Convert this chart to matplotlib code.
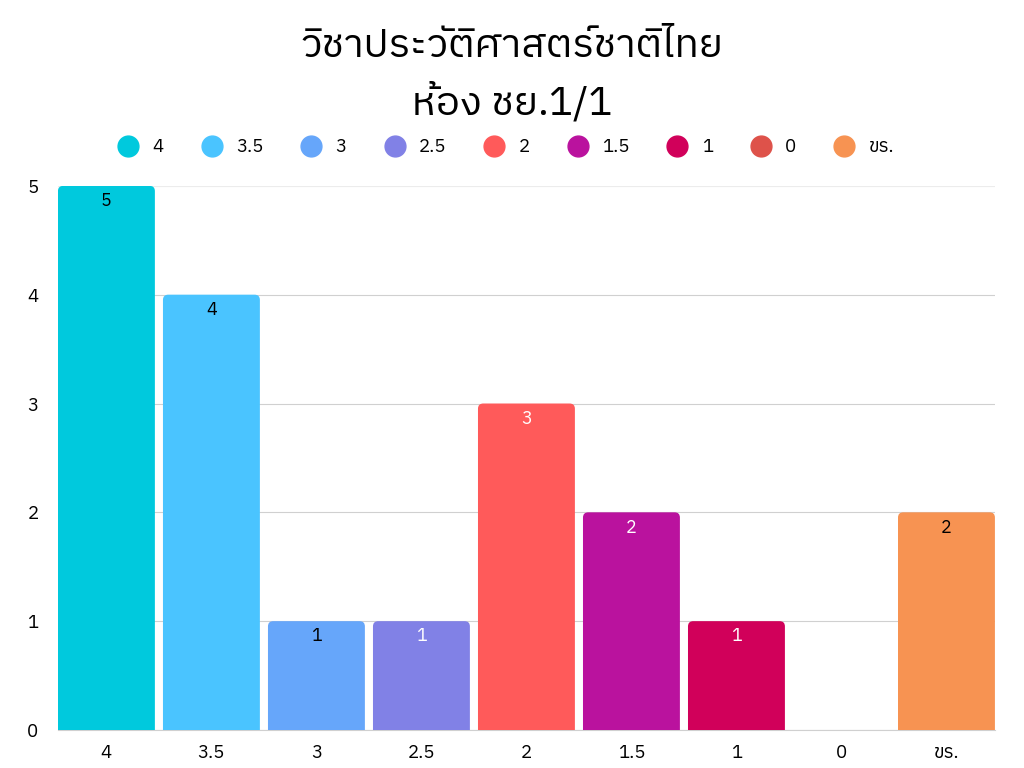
import matplotlib
matplotlib.use("Agg")
import matplotlib.pyplot as plt
from matplotlib import font_manager
from matplotlib.patches import FancyBboxPatch

categories = ['4', '3.5', '3', '2.5', '2', '1.5', '1', '0', 'ขร.']
counts = [5, 4, 1, 1, 3, 2, 1, 0, 2]
colors = ['#00C9DD', '#4AC4FF', '#66A6FA', '#8181E6', '#FF5A5A',
          '#BA129E', '#D1005A', '#DE524A', '#F79352']
label_colors = ['black', 'black', 'black', 'white', 'white',
                'white', 'white', 'white', 'black']
title = 'วิชาประวัติศาสตร์ชาติไทย\nห้อง ชย.1/1'

thai = sorted(set(f.name for f in font_manager.fontManager.ttflist if 'Thai' in f.name))
plt.rcParams['font.family'] = thai + ['DejaVu Sans']

BAR_W = 0.923


def main():
    fig = plt.figure(figsize=(10.24, 7.68), dpi=100)
    ax = fig.add_axes([0.0566, 0.0495, 0.915, 0.7085])

    x = list(range(len(categories)))
    bars = ax.bar(x, counts, width=BAR_W, color=colors, zorder=3)

    # swap plain bars for ones with rounded top corners
    for b, col in zip(bars, colors):
        b.set_visible(False)
        if b.get_height() == 0:
            continue
        p = FancyBboxPatch((b.get_x(), -0.2), b.get_width(), b.get_height() + 0.2,
                           boxstyle='round,pad=0,rounding_size=0.05',
                           mutation_aspect=0.96, facecolor=col,
                           edgecolor='none', zorder=3)
        ax.add_patch(p)

    for b, c, lc in zip(bars, counts, label_colors):
        if c == 0:
            continue
        ax.text(b.get_x() + b.get_width() / 2, c - 0.14, str(c),
                ha='center', va='center', fontsize=13, color=lc, zorder=4)

    ax.set_xlim(-BAR_W / 2, len(categories) - 1 + BAR_W / 2)
    ax.set_ylim(0, 5)
    ax.set_yticks(range(6))
    ax.set_xticks(x)
    ax.set_xticklabels(categories)
    ax.tick_params(length=0, labelsize=13.5, pad=10)
    ax.tick_params(axis='y', pad=14)
    ax.grid(axis='y', color='#d0d0d0', linewidth=0.8, zorder=0)
    ax.get_ygridlines()[-1].set_color('#ececec')
    for s in ['top', 'right', 'left']:
        ax.spines[s].set_visible(False)
    ax.spines['bottom'].set_color('#d0d0d0')

    handles = [plt.Line2D([], [], marker='o', linestyle='', markersize=15,
                          color=c) for c in colors]
    fig.legend(handles, categories, loc='center', bbox_to_anchor=(0.49, 0.808),
               ncol=len(categories), frameon=False, fontsize=13.5,
               handletextpad=0.3, columnspacing=1.55)

    fig.text(0.5, 0.902, title, ha='center', va='center',
             fontsize=29, linespacing=1.5)

    fig.savefig('out.png', dpi=100)


if __name__ == "__main__":
    main()
